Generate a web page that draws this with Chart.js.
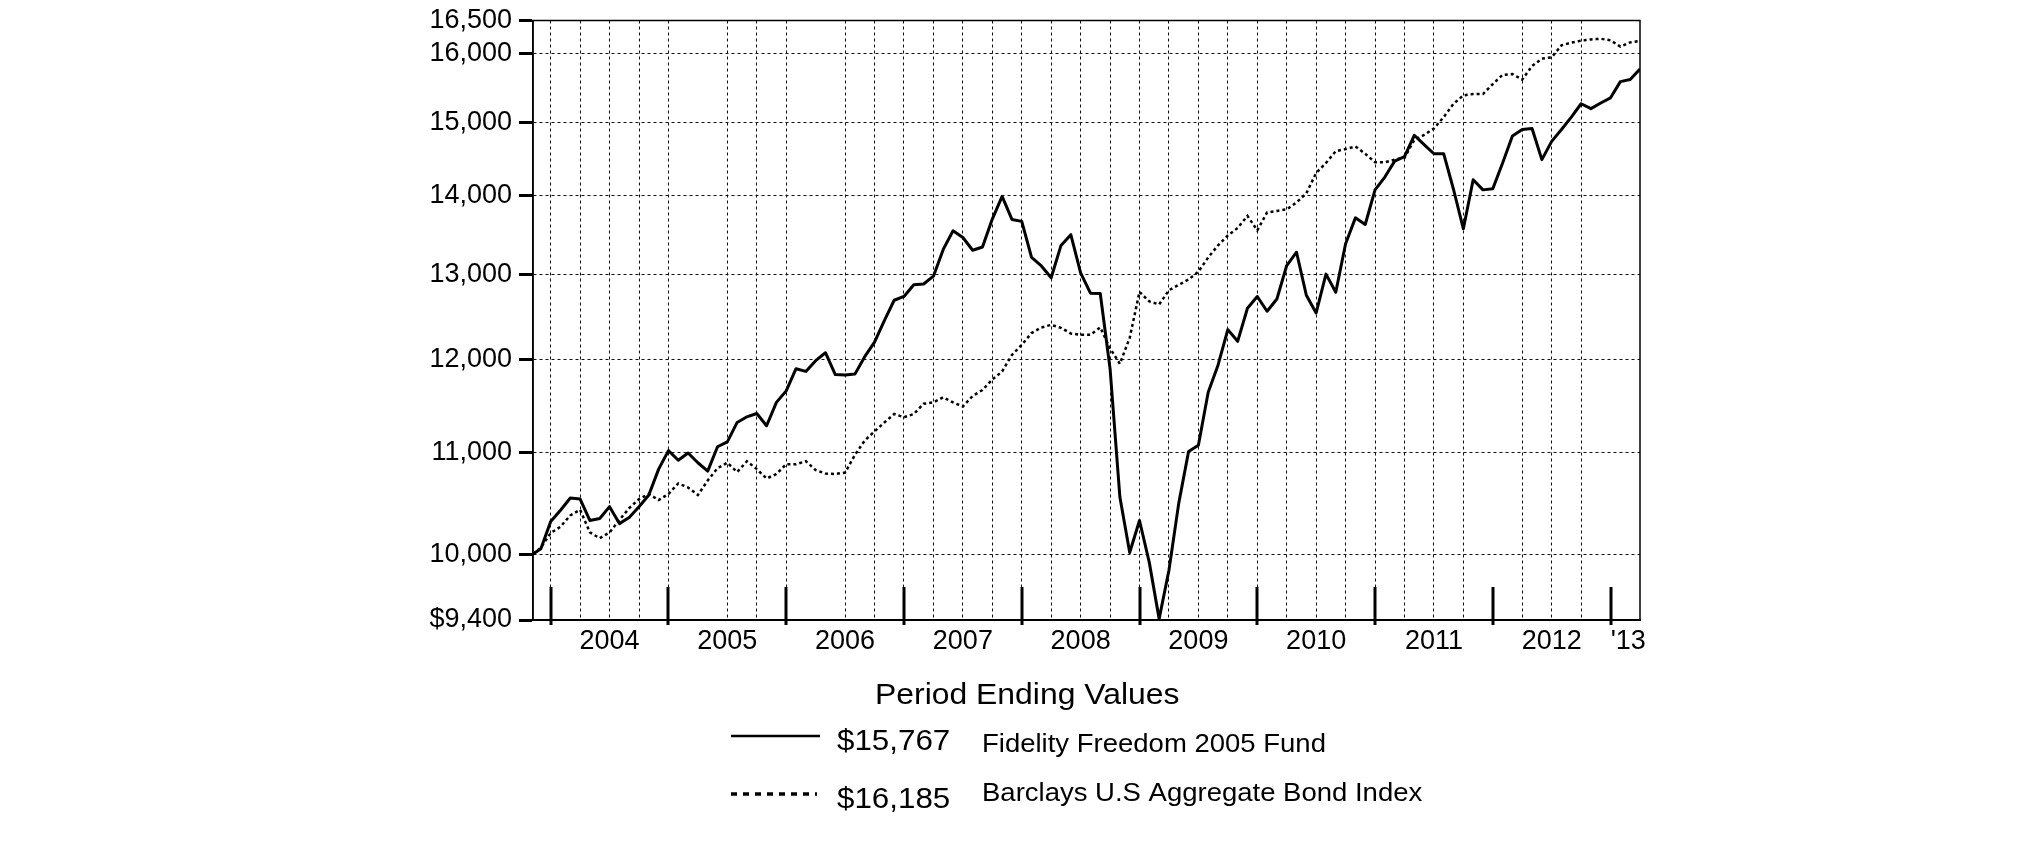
<!DOCTYPE html>
<html>
<head>
<meta charset="utf-8">
<script src="https://cdn.jsdelivr.net/npm/chart.js@4.4.0/dist/chart.umd.min.js"></script>
<style>
body { margin: 0; background: #fff; }
canvas { display: block; }
</style>
</head>
<body>
<canvas id="chart" width="2025" height="851"></canvas>
<script>
// Periods: inception date, then month ends Nov 2003 .. Mar 2013
var periods = ['2003-11-06'];
for (var yr = 2003; yr <= 2013; yr++) {
  for (var mo = 1; mo <= 12; mo++) {
    if (yr === 2003 && mo < 11) continue;
    if (yr === 2013 && mo > 3) break;
    periods.push(yr + '-' + (mo < 10 ? '0' : '') + mo);
  }
}

var seriesNames = ['Fidelity Freedom 2005 Fund', 'Barclays U.S Aggregate Bond Index'];

var fundValues = [
  10000, 10050, 10310,
  10420, 10540, 10530, 10320, 10340, 10455, 10290, 10350, 10455, 10570, 10830, 11020,
  10920, 10995, 10895, 10810, 11060, 11110, 11315, 11375, 11410, 11280, 11530, 11655,
  11900, 11870, 11990, 12080, 11835, 11830, 11840, 12035, 12200, 12450, 12690, 12735,
  12875, 12885, 12980, 13310, 13545, 13460, 13300, 13340, 13695, 13990, 13690, 13665,
  13210, 13105, 12960, 13360, 13495, 13020, 12775, 12770, 11900, 10550, 10015, 10320,
  9920, 9410, 9850, 10490, 11010, 11075, 11640, 11940, 12345, 12210, 12595, 12735,
  12560, 12705, 13110, 13275, 12750, 12540, 13005, 12785, 13380, 13710, 13625, 14075,
  14245, 14460, 14520, 14815, 14685, 14560, 14560, 14080, 13570, 14210, 14075, 14090,
  14435, 14805, 14895, 14910, 14480, 14730, 14895, 15070, 15260, 15190, 15270, 15345,
  15580, 15610, 15767
];

var bondValues = [
  10000, 10060, 10200,
  10260, 10370, 10425, 10205, 10150, 10205, 10325, 10440, 10530, 10580, 10520, 10580,
  10685, 10645, 10570, 10715, 10840, 10895, 10800, 10910, 10830, 10735, 10780, 10880,
  10880, 10910, 10820, 10785, 10780, 10795, 10975, 11125, 11220, 11315, 11405, 11370,
  11405, 11515, 11530, 11585, 11530, 11485, 11600, 11665, 11780, 11870, 12055, 12170,
  12305, 12370, 12400, 12365, 12300, 12285, 12285, 12370, 12130, 11955, 12250, 12790,
  12675, 12640, 12810, 12875, 12940, 13035, 13210, 13360, 13485, 13580, 13735, 13550,
  13780, 13800, 13820, 13910, 14030, 14300, 14435, 14595, 14625, 14660, 14560, 14445,
  14445, 14480, 14505, 14750, 14820, 14910, 15070, 15260, 15380, 15400, 15400, 15545,
  15680, 15690, 15610, 15810, 15920, 15940, 16120, 16160, 16190, 16210, 16220, 16195,
  16100, 16165, 16185
];

var yTicks = [9400, 10000, 11000, 12000, 13000, 14000, 15000, 16000, 16500];
var yTickLabels = ['$9,400', '10,000', '11,000', '12,000', '13,000', '14,000', '15,000', '16,000', '16,500'];

// dotted vertical grid lines (quarters, as drawn in the original)
var gridDates = [2004, 2004.25, 2004.5, 2004.75, 2005, 2005.5, 2005.75, 2006, 2006.5, 2006.75,
  2007, 2007.25, 2007.5, 2007.75, 2008, 2008.25, 2008.5, 2008.75, 2009, 2009.25, 2009.5, 2009.75,
  2010, 2010.25, 2010.5, 2010.75, 2011, 2011.25, 2011.5, 2011.75, 2012.25, 2012.5, 2012.75];
var yearMarks = [2004, 2005, 2006, 2007, 2008, 2009, 2010, 2011, 2012, 2013];
var yearLabelPos = [2004.5, 2005.5, 2006.5, 2007.5, 2008.5, 2009.5, 2010.5, 2011.5, 2012.5, 2013.15];
var yearLabels = ['2004', '2005', '2006', '2007', '2008', '2009', '2010', '2011', '2012', "'13"];
var legendTitle = 'Period Ending Values';

function toYear(p) {
  var a = p.split('-');
  if (a.length === 3) return +a[0] + (a[1] - 1) / 12 + a[2] / 365;
  return +a[0] + a[1] / 12;
}
var xs = periods.map(toYear);
var xMin = xs[0], xMax = xs[xs.length - 1];

function points(vals) {
  return vals.map(function (v, i) { return {x: xs[i], y: v}; });
}

var FONT = '"Liberation Sans", Arial, Helvetica, sans-serif';

function stretchText(ctx, text, x, y, size, sx) {
  ctx.save();
  ctx.translate(x, y);
  ctx.scale(sx, 1);
  ctx.font = size + 'px ' + FONT;
  ctx.fillText(text, 0, 0);
  ctx.restore();
}

var framePlugin = {
  id: 'frame',
  afterDatasetsDraw: function (chart) {
    var ctx = chart.ctx, a = chart.chartArea, sx = chart.scales.x;
    ctx.save();
    ctx.strokeStyle = '#000';
    ctx.lineWidth = 1.5;
    ctx.strokeRect(a.left, a.top, a.right - a.left, a.bottom - a.top);
    ctx.lineWidth = 3;
    yearMarks.forEach(function (y) {
      var px = Math.round(sx.getPixelForValue(y));
      ctx.beginPath();
      ctx.moveTo(px, a.bottom + 5);
      ctx.lineTo(px, a.bottom - 33);
      ctx.stroke();
    });
    ctx.restore();
  }
};

var legendPlugin = {
  id: 'periodLegend',
  afterDraw: function (chart) {
    var ctx = chart.ctx;
    var data = [fundValues, bondValues];
    var rows = [{line: 736, value: 750, name: 752, dash: []}, {line: 794, value: 808, name: 801, dash: [6, 6]}];
    ctx.save();
    ctx.fillStyle = '#000';
    ctx.textBaseline = 'alphabetic';
    stretchText(ctx, legendTitle, 875, 704, 29, 1.1);
    rows.forEach(function (r, i) {
      ctx.strokeStyle = '#000';
      ctx.lineWidth = i === 0 ? 2.5 : 3.5;
      ctx.setLineDash(r.dash);
      ctx.beginPath();
      ctx.moveTo(731, r.line);
      ctx.lineTo(i === 0 ? 820 : 817, r.line);
      ctx.stroke();
      ctx.setLineDash([]);
      var last = data[i][data[i].length - 1];
      stretchText(ctx, '$' + last.toLocaleString('en-US'), 837, r.value, 29, 1.08);
      stretchText(ctx, seriesNames[i], 982, r.name, 25, 1.1);
    });
    ctx.restore();
  }
};

new Chart(document.getElementById('chart'), {
  type: 'line',
  data: {
    datasets: [
      {
        label: seriesNames[0],
        data: points(fundValues),
        borderColor: '#000',
        borderWidth: 3,
        borderJoinStyle: 'round',
        pointRadius: 0,
        tension: 0
      },
      {
        label: seriesNames[1],
        data: points(bondValues),
        borderColor: '#000',
        borderWidth: 2.5,
        borderDash: [3, 3],
        pointRadius: 0,
        tension: 0
      }
    ]
  },
  options: {
    responsive: false,
    animation: false,
    devicePixelRatio: 1,
    layout: {padding: {left: 0, right: 385, top: 15, bottom: 0}},
    plugins: {legend: {display: false}, tooltip: {enabled: false}},
    scales: {
      x: {
        type: 'linear',
        position: 'bottom',
        min: xMin,
        max: xMax,
        afterBuildTicks: function (s) { s.ticks = gridDates.map(function (v) { return {value: v}; }); },
        afterFit: function (s) { s.height = 0; },
        ticks: {display: false},
        grid: {color: '#111', lineWidth: 1, drawTicks: false},
        border: {display: true, color: '#000', width: 2, dash: [3, 3]}
      },
      years: {
        type: 'linear',
        position: 'bottom',
        min: xMin,
        max: xMax,
        afterBuildTicks: function (s) { s.ticks = yearLabelPos.map(function (v) { return {value: v}; }); },
        afterFit: function (s) { s.height = 231; },
        ticks: {
          autoSkip: false,
          maxRotation: 0,
          padding: 8,
          color: '#000',
          font: {family: FONT, size: 27, lineHeight: 1},
          callback: function (v, i) { return yearLabels[i]; }
        },
        grid: {display: false, drawTicks: false},
        border: {display: false}
      },
      y: {
        type: 'logarithmic',
        min: 9400,
        max: 16500,
        afterBuildTicks: function (s) { s.ticks = yTicks.map(function (v) { return {value: v}; }); },
        afterFit: function (s) { s.width = 533; },
        ticks: {
          padding: 7,
          color: '#000',
          font: {family: FONT, size: 27, lineHeight: 1},
          callback: function (v, i) { return yTickLabels[i]; }
        },
        grid: {
          color: function (c) {
            var v = c.tick && c.tick.value;
            return (v === 9400 || v === 16500) ? 'rgba(0,0,0,0)' : '#111';
          },
          lineWidth: 1,
          tickColor: '#000',
          tickLength: 14,
          tickWidth: 3,
          tickBorderDash: []
        },
        border: {display: true, color: '#000', width: 1.5, dash: [3, 3]}
      }
    }
  },
  plugins: [framePlugin, legendPlugin]
});
</script>
</body>
</html>
